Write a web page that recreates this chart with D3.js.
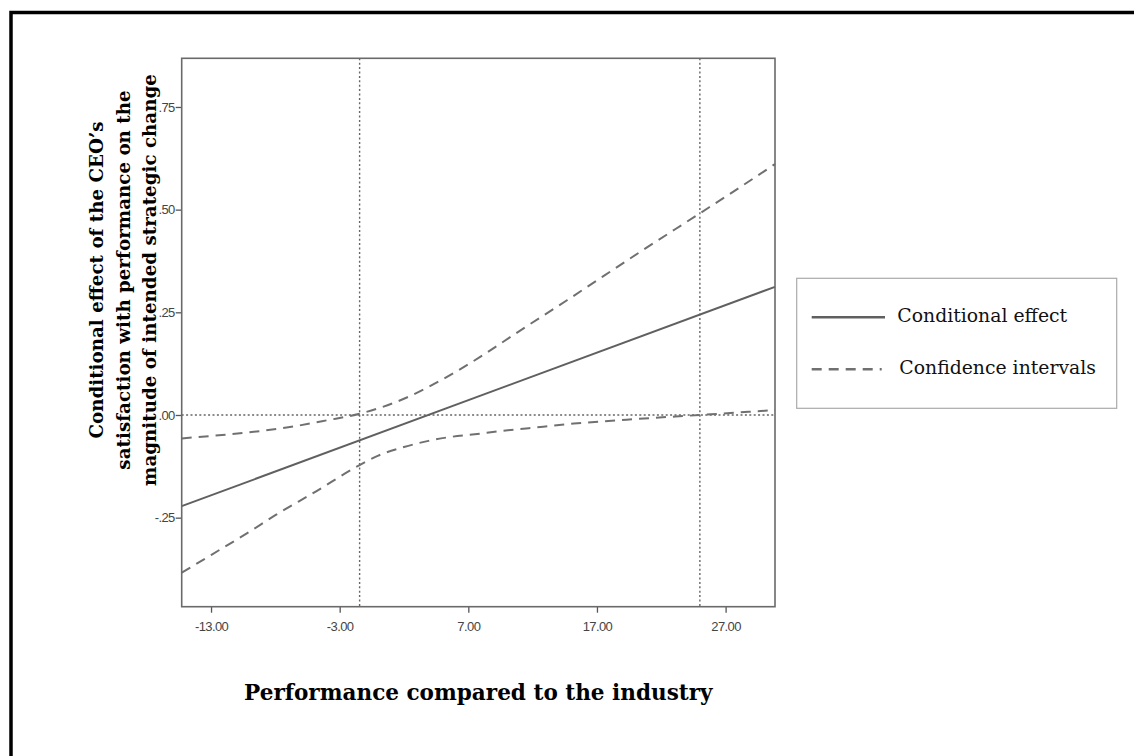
<!DOCTYPE html>
<html><head><meta charset="utf-8">
<script src="https://cdn.jsdelivr.net/npm/d3@7"></script>
<style>body{margin:0;background:#fff}</style></head><body>
<svg id="c" width="1134" height="756"></svg>
<script>
// ---- data ----
const xTicks = [-13, -3, 7, 17, 27];
const yTicks = [-0.25, 0, 0.25, 0.5, 0.75];
const jnPoints = [-1.45, 25.0];
const effectX = [-15.28, 30.84];
const effectY = [-0.222, 0.312];
const upperX = [-15.28, -13, -10, -7, -4, -1.45, 2.4, 4.9, 7.95, 11, 14.7, 17.5, 20.3, 25, 28, 30.84];
const upperY = [-0.057, -0.051, -0.042, -0.030, -0.013, 0.003, 0.045, 0.085, 0.142, 0.205, 0.280, 0.338, 0.396, 0.491, 0.552, 0.611];
const lowerX = [-15.28, -13, -10, -8, -5, -1.45, 0, 2, 3.9, 5.5, 7.5, 9.5, 11.7, 15.2, 20, 25, 30.84];
const lowerY = [-0.384, -0.341, -0.284, -0.244, -0.189, -0.122, -0.099, -0.078, -0.063, -0.054, -0.047, -0.039, -0.032, -0.021, -0.010, 0.000, 0.012];
const seriesNames = ["Conditional effect", "Confidence intervals"];
const xTitle = "Performance compared to the industry";
const yTitleLines = ["Conditional effect of the CEO\u2019s", "satisfaction with performance on the", "magnitude of intended strategic change"];

// ---- layout ----
const W = 1134, H = 756;
const L = 181.7, R = 775, T = 58.3, B = 606.7;
const serif = "'Palatino Linotype','Book Antiqua',Palatino,'DejaVu Serif',serif";
const sans = "'Liberation Sans',Arial,sans-serif";

const svg = d3.select("#c");
svg.append("rect").attr("width", W).attr("height", H).attr("fill", "#fff");
svg.append("rect").attr("x", 11).attr("y", 12.5).attr("width", 1300).attr("height", 900)
  .attr("fill", "none").attr("stroke", "#000").attr("stroke-width", 3.5);

const x = d3.scaleLinear().domain([-15.28, 30.84]).range([L, R]);
const y = d3.scaleLinear().domain([-0.4668, 0.8685]).range([B, T]);

// axes
const xAxis = svg.append("g").attr("transform", `translate(0,${B})`)
  .call(d3.axisBottom(x).tickValues(xTicks).tickSize(6).tickPadding(9).tickFormat(d => d.toFixed(2)));
const yAxis = svg.append("g").attr("transform", `translate(${L},0)`)
  .call(d3.axisLeft(y).tickValues(yTicks).tickSize(6).tickPadding(1)
    .tickFormat(d => d.toFixed(2).replace(/^(-?)0/, "$1")));
[xAxis, yAxis].forEach(g => {
  g.attr("font-size", null).attr("font-family", null);
  g.select(".domain").remove();
  g.selectAll(".tick line").attr("stroke", "#555").attr("stroke-width", 1.3);
  g.selectAll(".tick text").attr("fill", "#444")
    .style("font-family", sans).style("font-size", "13px").style("letter-spacing", "-0.6px");
});

// reference lines
const dotted = { stroke: "#666", w: 1.4, dash: "2,2.4" };
svg.append("line").attr("x1", L).attr("x2", R).attr("y1", y(0)).attr("y2", y(0))
  .attr("stroke", dotted.stroke).attr("stroke-width", dotted.w).attr("stroke-dasharray", dotted.dash);
svg.selectAll(".jn").data(jnPoints).enter().append("line")
  .attr("x1", d => x(d)).attr("x2", d => x(d)).attr("y1", T).attr("y2", B)
  .attr("stroke", dotted.stroke).attr("stroke-width", dotted.w).attr("stroke-dasharray", dotted.dash);

// series
const line = d3.line().x(d => x(d[0])).y(d => y(d[1])).curve(d3.curveMonotoneX);
const zip = (a, b) => a.map((v, i) => [v, b[i]]);
svg.append("path").attr("d", line(zip(upperX, upperY))).attr("fill", "none")
  .attr("stroke", "#707070").attr("stroke-width", 2).attr("stroke-dasharray", "10,7");
svg.append("path").attr("d", line(zip(lowerX, lowerY))).attr("fill", "none")
  .attr("stroke", "#707070").attr("stroke-width", 2).attr("stroke-dasharray", "10,7");
svg.append("path").attr("d", line(zip(effectX, effectY))).attr("fill", "none")
  .attr("stroke", "#606060").attr("stroke-width", 2);

// frame
svg.append("rect").attr("x", L).attr("y", T).attr("width", R - L).attr("height", B - T)
  .attr("fill", "none").attr("stroke", "#6a6a6a").attr("stroke-width", 1.6);

// fit helper
function fit(sel, target) {
  const len = sel.node().getComputedTextLength();
  const fs = parseFloat(sel.style("font-size"));
  sel.style("font-size", (fs * target / len) + "px");
  return fs * target / len;
}

// x title
const xt = svg.append("text").attr("x", (L + R) / 2).attr("y", 700).attr("text-anchor", "middle")
  .style("font-family", serif).style("font-weight", "bold").style("font-size", "20px").attr("fill", "#000").text(xTitle);
fit(xt, 469);

// y title
const yg = svg.append("g").attr("transform", `translate(0,280) rotate(-90)`);
const yBase = [103, 129.5, 156];
const yTexts = yTitleLines.map((t, i) => yg.append("text").attr("x", 0).attr("y", yBase[i]).attr("text-anchor", "middle")
    .style("font-family", serif).style("font-weight", "bold").style("font-size", "20px")
    .attr("fill", "#000").text(t));
const ySize = fit(yTexts[2], 412);
yTexts.forEach(t => t.style("font-size", ySize + "px"));

// legend
svg.append("rect").attr("x", 796.7).attr("y", 278.3).attr("width", 320).attr("height", 130)
  .attr("fill", "#fff").attr("stroke", "#aaa").attr("stroke-width", 1.2);
svg.append("line").attr("x1", 811.7).attr("x2", 885).attr("y1", 317.3).attr("y2", 317.3)
  .attr("stroke", "#606060").attr("stroke-width", 2.5);
svg.append("line").attr("x1", 811.7).attr("x2", 881.7).attr("y1", 369.3).attr("y2", 369.3)
  .attr("stroke", "#707070").attr("stroke-width", 2.5).attr("stroke-dasharray", "10,7");
const lt1 = svg.append("text").attr("x", 897.3).attr("y", 322).style("font-family", serif)
  .style("font-size", "17px").attr("fill", "#111").text(seriesNames[0]);
const legSize = fit(lt1, 170);
svg.append("text").attr("x", 899.3).attr("y", 374).style("font-family", serif)
  .style("font-size", legSize + "px").attr("fill", "#111").text(seriesNames[1]);
</script>
</body></html>
